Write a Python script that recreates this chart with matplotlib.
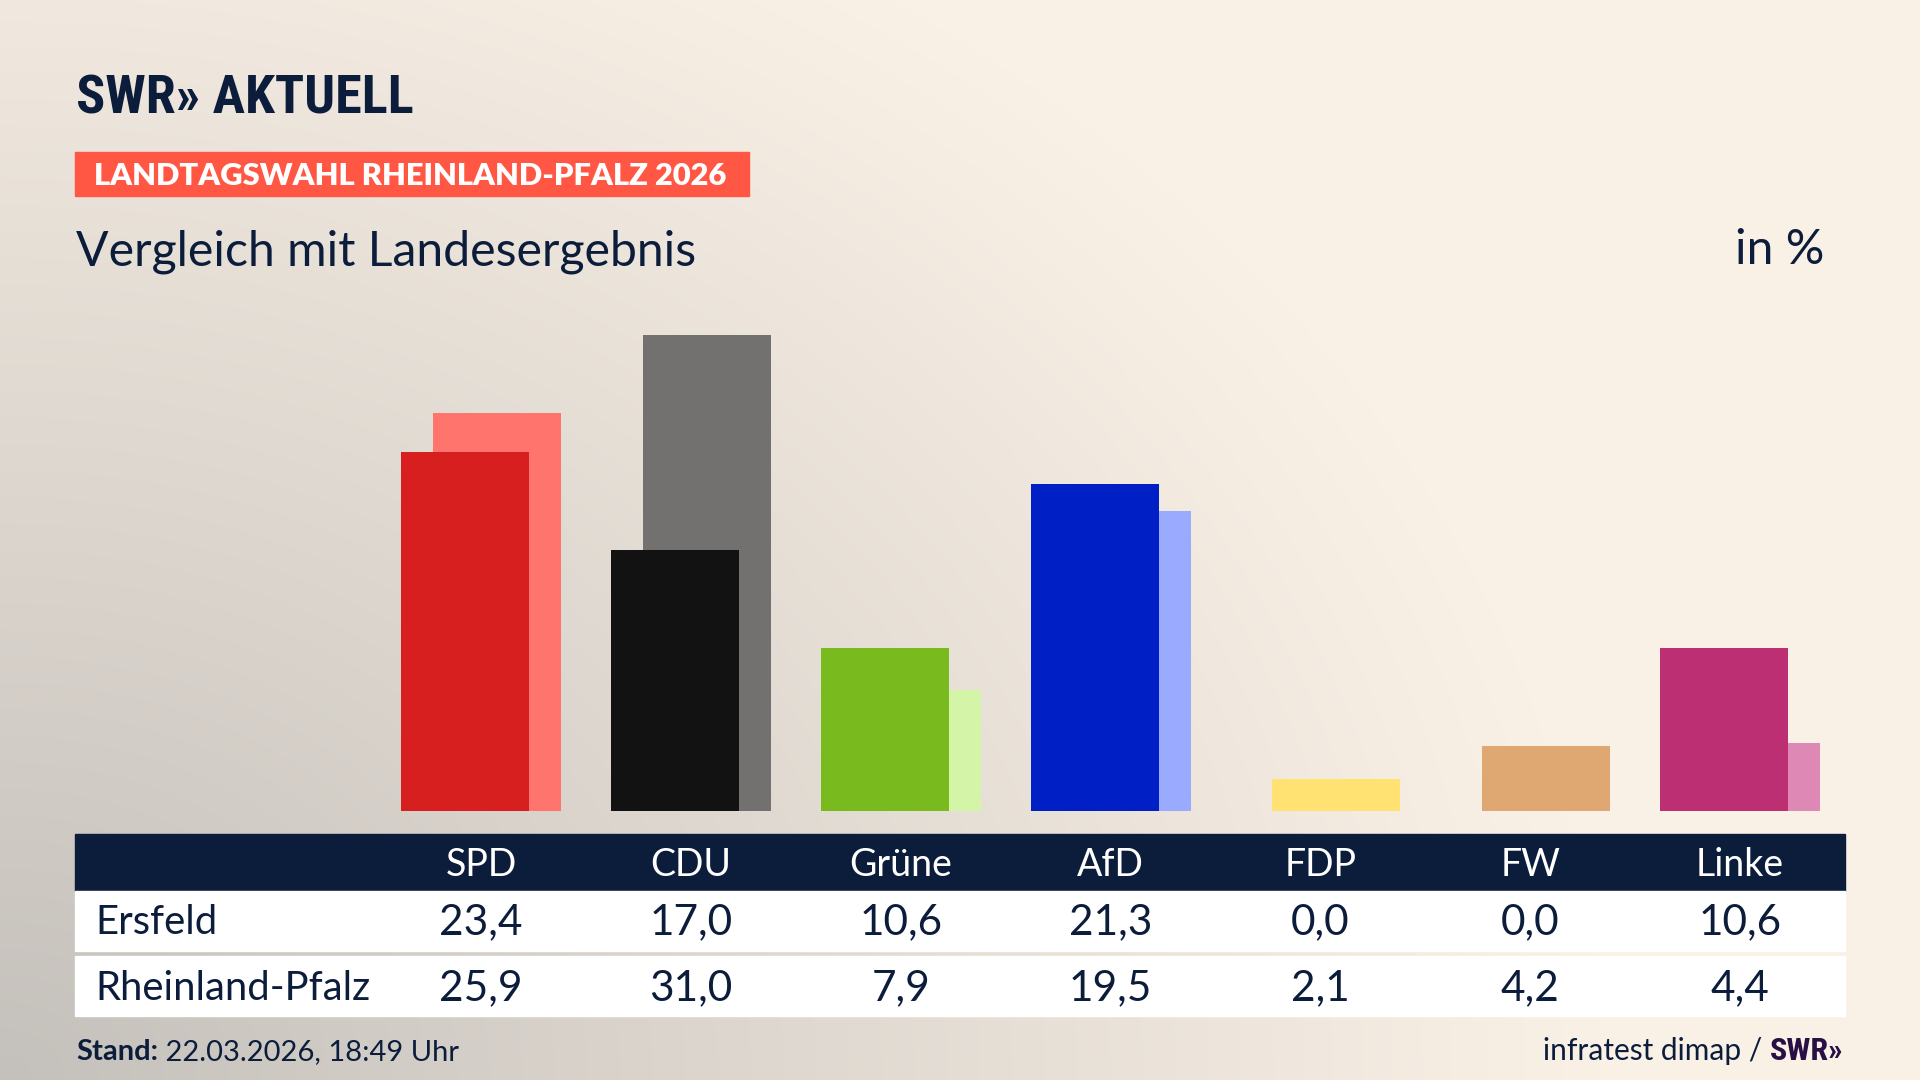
import numpy as np
import matplotlib
matplotlib.use("Agg")
import matplotlib.pyplot as plt
from matplotlib.patches import Rectangle
from matplotlib import transforms
from matplotlib import font_manager as fm

# ---------------- data ----------------
parties = ["SPD", "CDU", "Grüne", "AfD", "FDP", "FW", "Linke"]
ersfeld = [23.4, 17.0, 10.6, 21.3, 0.0, 0.0, 10.6]
landes = [25.9, 31.0, 7.9, 19.5, 2.1, 4.2, 4.4]
row_labels = ["Ersfeld", "Rheinland-Pfalz"]
colors_main = ["#D71F1F", "#121212", "#79BB1E", "#0020C6", "#FFE000", "#DFA771", "#BC3073"]
colors_light = ["#FF756D", "#73716F", "#D4F4A8", "#9AABFF", "#FFE271", "#DFA771", "#DE89B5"]

title_label = "LANDTAGSWAHL RHEINLAND-PFALZ 2026"
subtitle = "Vergleich mit Landesergebnis"
unit = "in %"
stand_bold = "Stand:"
stand_text = " 22.03.2026, 18:49 Uhr"
source = "infratest dimap / "

def fmt(v):
    return f"{v:.1f}".replace(".", ",")

# ---------------- fonts ----------------
def find_condensed_bold():
    prefs = ["Roboto Condensed", "Liberation Sans Narrow", "DejaVu Sans", "Noto Sans",
             "Open Sans", "Inter"]
    cands = []
    for f in fm.fontManager.ttflist:
        name = f.name
        is_cond = (str(f.stretch) in ("condensed", "semi-condensed", "extra-condensed",
                                      "ultra-condensed")
                   or "Condensed" in name or "Narrow" in name
                   or "Condensed" in f.fname or "Narrow" in f.fname)
        w = f.weight
        try:
            w = int(w)
        except (TypeError, ValueError):
            w = {"bold": 700, "heavy": 800, "black": 900, "semibold": 600,
                 "demibold": 600, "extra bold": 800}.get(str(w).lower(), 400)
        if is_cond and w >= 700 and "Oblique" not in f.fname and "Italic" not in f.fname:
            cands.append(f)
    def key(f):
        for i, p in enumerate(prefs):
            if f.name.startswith(p.split()[0]):
                return i
        return len(prefs)
    cands.sort(key=key)
    if cands:
        return fm.FontProperties(fname=cands[0].fname)
    return fm.FontProperties(family="DejaVu Sans", weight="bold")

LOGO_FP = find_condensed_bold()

NAVY = "#0C1D3C"
LABEL_RED = "#FF5743"
BODY = "Lato"
W, H = 1920, 1080

fig = plt.figure(figsize=(19.2, 10.8), dpi=100)

def fx(px):
    return px / W

def fy(py):
    return 1 - py / H

# background gradient (cream with grey glow in the lower left)
bg = fig.add_axes([0, 0, 1, 1], zorder=-10)
bg.set_axis_off()
yy, xx = np.mgrid[0:H, 0:W]
r = np.sqrt((xx / 1600.0) ** 2 + ((H - yy) / 1300.0) ** 2)
f = np.clip(1 - r, 0, 1)
cream = np.array([250, 241, 230]) / 255
grey = np.array([196, 192, 187]) / 255
img = cream[None, None, :] * (1 - f[..., None]) + grey[None, None, :] * f[..., None]
bg.imshow(img, extent=[0, 1, 0, 1], aspect="auto", origin="upper")
bg.set_xlim(0, 1)
bg.set_ylim(0, 1)

# ---------------- header ----------------
logo_fp = LOGO_FP.copy()
logo_fp.set_size(41)
logo = fig.text(fx(76), fy(113), "SWR» AKTUELL", fontproperties=logo_fp,
                color=NAVY, ha="left", va="baseline")
# fit logo width to the reference (76 .. 414 px)
fig.canvas.draw()
lw = logo.get_window_extent().width
if lw > 0:
    logo_fp.set_size(41 * min(1.0, 338.0 / lw) if lw > 338 * 1.25 else 41 * 338.0 / lw)
    logo.set_fontproperties(logo_fp)

fig.patches.append(Rectangle((fx(75), fy(196)), fx(749) - fx(75), (196 - 152) / H,
                             transform=fig.transFigure, color=LABEL_RED, zorder=1))
fig.text(fx(94), fy(185), title_label, family=BODY, weight="heavy", fontsize=22.2,
         color="white", ha="left", va="baseline", zorder=2)

fig.text(fx(76), fy(265), subtitle, family=BODY, fontsize=34.7, color=NAVY,
         ha="left", va="baseline")
fig.text(fx(1824), fy(264), unit, family=BODY, fontsize=34.7, color=NAVY,
         ha="right", va="baseline")

# ---------------- bars ----------------
c0, step = 481.2, 209.8
ax_left, ax_right = 75, 1845
base_py, scale, ymax = 811, 15.36, 35
top_py = base_py - scale * ymax
ax = fig.add_axes([fx(ax_left), fy(base_py), fx(ax_right) - fx(ax_left), (base_py - top_py) / H])
ax.set_xlim((ax_left - c0) / step, (ax_right - c0) / step)
ax.set_ylim(0, ymax)
ax.set_axis_off()
x = np.arange(len(parties))
bw = 128 / step
off = 16 / step
ax.bar(x + off, landes, width=bw, color=colors_light, zorder=1, linewidth=0)
ax.bar(x - off, ersfeld, width=bw, color=colors_main, zorder=2, linewidth=0)

# ---------------- table ----------------
trans = transforms.blended_transform_factory(ax.transData, fig.transFigure)
fig.patches.append(Rectangle((fx(75), fy(891)), fx(1845) - fx(75), (891 - 834) / H,
                             transform=fig.transFigure, color=NAVY, zorder=1))
row_spans = [(891, 951), (956, 1016)]
for (t, b) in row_spans:
    fig.patches.append(Rectangle((fx(75), fy(b)), fx(1845) - fx(75), (b - t) / H,
                                 transform=fig.transFigure, color="white", zorder=1))

for i, p in enumerate(parties):
    fig.text(i, fy(876), p, transform=trans, family=BODY, fontsize=27, color="white",
             ha="center", va="baseline", zorder=3)

row_base = [934, 1000]
for lbl, vals, yb in zip(row_labels, [ersfeld, landes], row_base):
    fig.text(fx(95), fy(yb), lbl, family=BODY, fontsize=28.8, color=NAVY,
             ha="left", va="baseline", zorder=3)
    for i, v in enumerate(vals):
        fig.text(i, fy(yb), fmt(v), transform=trans, family=BODY, fontsize=30.5,
                 color=NAVY, ha="center", va="baseline", zorder=3)

# ---------------- footer ----------------
t1 = fig.text(fx(76), fy(1060), stand_bold, family=BODY, weight="bold", fontsize=21,
              color=NAVY, ha="left", va="baseline")
fig.canvas.draw()
bb = t1.get_window_extent()
fig.text(bb.x1 / W, fy(1060), stand_text, family=BODY, fontsize=21, color=NAVY,
         ha="left", va="baseline")

foot_fp = LOGO_FP.copy()
foot_fp.set_size(23)
t3 = fig.text(fx(1843), fy(1060), "SWR»", fontproperties=foot_fp,
              color="#2A0F45", ha="right", va="baseline")
fig.canvas.draw()
bb3 = t3.get_window_extent()
fig.text(bb3.x0 / W, fy(1060), source, family=BODY, fontsize=21.5, color=NAVY,
         ha="right", va="baseline")

fig.savefig("out.png", dpi=100)
